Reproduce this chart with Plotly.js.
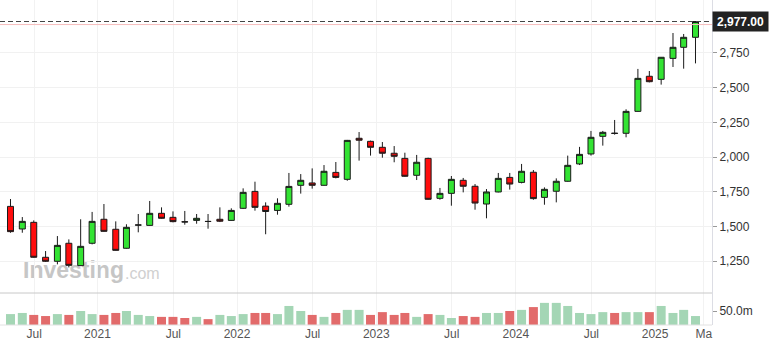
<!DOCTYPE html>
<html><head><meta charset="utf-8">
<script src="https://cdn.plot.ly/plotly-3.0.1.min.js"></script>
<style>html,body{margin:0;padding:0;background:#fff;} #chart{width:773px;height:356px;}</style>
</head><body><div id="chart"></div>
<script>
const months = ['2020-05','2020-06','2020-07','2020-08','2020-09','2020-10','2020-11','2020-12',
  '2021-01','2021-02','2021-03','2021-04','2021-05','2021-06','2021-07','2021-08','2021-09','2021-10','2021-11','2021-12',
  '2022-01','2022-02','2022-03','2022-04','2022-05','2022-06','2022-07','2022-08','2022-09','2022-10','2022-11','2022-12',
  '2023-01','2023-02','2023-03','2023-04','2023-05','2023-06','2023-07','2023-08','2023-09','2023-10','2023-11','2023-12',
  '2024-01','2024-02','2024-03','2024-04','2024-05','2024-06','2024-07','2024-08','2024-09','2024-10','2024-11','2024-12',
  '2025-01','2025-02','2025-03','2025-04'];
const openPrices = [1644,1481,1529,1277,1248,1378,1217,1378,1551,1479,
  1342,1509,1507,1594,1565,1533,1543,1536,1551,1543,
  1630,1752,1646,1615,1659,1796,1813,1796,1889,1839,
  2135,2113,2070,2027,1990,1868,1990,1702,1738,1832,
  1789,1661,1748,1853,1817,1890,1709,1753,1825,1950,
  2022,2149,2172,2171,2329,2582,2560,2711,2791,2863];
const highPrices = [1697,1567,1543,1322,1430,1406,1551,1604,1661,1536,
  1515,1589,1683,1637,1608,1611,1589,1589,1637,1630,
  1774,1822,1673,1702,1885,1877,1918,1942,1964,2123,
  2180,2118,2108,2079,2031,2015,1995,1777,1863,1849,
  1805,1769,1885,1885,1950,1906,1781,1846,2010,2073,
  2188,2188,2267,2344,2635,2620,2720,2894,2887,2980];
const lowPrices = [1454,1454,1274,1243,1226,1204,1214,1370,1462,1325,
  1339,1457,1505,1555,1529,1512,1519,1483,1531,1541,
  1625,1613,1443,1584,1642,1736,1772,1794,1846,1829,
  1974,2010,1995,1962,1858,1834,1692,1692,1649,1745,
  1620,1558,1745,1765,1810,1692,1656,1673,1822,1942,
  2010,2082,2161,2142,2327,2538,2522,2649,2637,2675];
const closePrices = [1462,1536,1277,1248,1363,1219,1356,1536,1464,1327,
  1493,1510,1594,1558,1534,1532,1558,1535,1537,1615,
  1745,1637,1607,1666,1788,1832,1796,1897,1853,2120,
  2121,2070,2027,2005,1861,1962,1695,1738,1839,1789,
  1668,1748,1846,1805,1897,1700,1767,1825,1940,2019,
  2142,2178,2170,2329,2567,2543,2719,2791,2863,2977];
const volumeMillions = [39,43,36,32,39,36,50,39,36,43,
  50,36,32,29,29,25,29,21,36,32,
  39,43,43,39,68,50,36,29,43,54,
  54,36,46,36,43,29,39,36,25,32,
  29,43,43,50,54,64,79,79,68,43,
  39,46,43,46,46,46,68,43,54,32];
const xTickDates = ['2020-07-02','2020-12-15','2021-07-02','2021-12-16','2022-07-02','2022-12-16',
  '2023-07-02','2023-12-17','2024-07-02','2024-12-16','2025-04-23'];
const xTickLabels = ['Jul','2021','Jul','2022','Jul','2023','Jul','2024','Jul','2025','Ma'];
const priceTicks = [1250,1500,1750,2000,2250,2500,2750];
const volumeTicks = [50];
const volumeTickLabels = ['50.0m'];
const referenceLevel = 2955;
const watermarkMain = 'Investing';
const watermarkSuffix = '.com';

const lastPrice = closePrices[closePrices.length - 1];
const lastPriceText = lastPrice.toLocaleString('en-US', {minimumFractionDigits: 2, maximumFractionDigits: 2});
const volColors = closePrices.map((c, i) => (i === 0 || c >= closePrices[i - 1]) ? '#a4d6b5' : '#e26b6b');
const DAY = 86400000;
const pricePaneBottom = 32 / 325;
const FONT = 'Liberation Sans, Arial, sans-serif';

const traces = [
  {
    type: 'bar', x: months, y: volumeMillions, xaxis: 'x', yaxis: 'y2',
    width: 23.6 * DAY, marker: {color: volColors, line: {width: 0}}, hoverinfo: 'skip'
  },
  {
    type: 'candlestick', x: months, open: openPrices, high: highPrices, low: lowPrices, close: closePrices,
    xaxis: 'x', yaxis: 'y', whiskerwidth: 0,
    increasing: {line: {color: '#1a1a1a', width: 1}, fillcolor: '#33e333'},
    decreasing: {line: {color: '#1a1a1a', width: 1}, fillcolor: '#ff0d0d'},
    hoverinfo: 'skip'
  }
];

const layout = {
  width: 773, height: 356,
  margin: {l: 0, r: 61, t: 0, b: 31, pad: 0},
  paper_bgcolor: '#ffffff', plot_bgcolor: '#ffffff',
  font: {family: FONT, size: 12, color: '#333'},
  showlegend: false, hovermode: false,
  boxgap: 0.44, boxgroupgap: 0,
  xaxis: {
    type: 'date', range: ['2020-04-03 12:00', '2025-05-14 07:00'], anchor: 'y2',
    tickmode: 'array', tickvals: xTickDates, ticktext: xTickLabels,
    showgrid: true, gridcolor: '#f2f2f2', ticks: '',
    tickfont: {color: '#555', size: 12, family: FONT},
    showline: false, zeroline: false,
    rangeslider: {visible: false}, fixedrange: true
  },
  yaxis: {
    domain: [pricePaneBottom, 1], range: [1019.5, 3132], side: 'right', anchor: 'x',
    tickmode: 'array', tickvals: priceTicks, tickformat: ',d',
    showgrid: true, gridcolor: '#f1f1f1', ticks: 'outside', ticklen: 4, tickcolor: '#999',
    showline: true, linecolor: '#dcdde4', zeroline: false,
    tickfont: {color: '#333', size: 12, family: FONT}, fixedrange: true
  },
  yaxis2: {
    domain: [0, pricePaneBottom], range: [0, 114.3], side: 'right', anchor: 'x',
    tickmode: 'array', tickvals: volumeTicks, ticktext: volumeTickLabels,
    showgrid: false, ticks: 'outside', ticklen: 4, tickcolor: '#999',
    showline: true, linecolor: '#dcdde4', zeroline: false,
    tickfont: {color: '#333', size: 12, family: FONT}, fixedrange: true
  },
  shapes: [
    {type: 'rect', xref: 'paper', yref: 'paper', x0: 20 / 712, x1: 122 / 712, y0: (325 - 284.3) / 325, y1: (325 - 252.3) / 325,
      line: {width: 0}, fillcolor: 'rgba(0,0,0,0)', layer: 'between',
      label: {text: '<b>' + watermarkMain + '</b>', textposition: 'middle left', padding: 0,
        font: {size: 23, color: '#c6c6c6', family: FONT}}},
    {type: 'rect', xref: 'paper', yref: 'paper', x0: 122 / 712, x1: 160 / 712, y0: (325 - 283) / 325, y1: (325 - 259) / 325,
      line: {width: 0}, fillcolor: 'rgba(0,0,0,0)', layer: 'between',
      label: {text: watermarkSuffix, textposition: 'middle left', padding: 0,
        font: {size: 16, color: '#d0d0d0', family: FONT}}},
    {type: 'line', xref: 'paper', yref: 'paper', x0: 0, x1: 1, y0: pricePaneBottom, y1: pricePaneBottom,
      line: {color: '#c8c8c8', width: 1}},
    {type: 'line', xref: 'paper', yref: 'paper', x0: 0, x1: 1, y0: 0, y1: 0,
      line: {color: '#e2e2e2', width: 1}},
    {type: 'line', xref: 'paper', yref: 'y', x0: 0, x1: 1, y0: referenceLevel, y1: referenceLevel,
      line: {color: '#f6bcbc', width: 1}},
    {type: 'line', xref: 'paper', yref: 'y', x0: 0, x1: 1, y0: lastPrice, y1: lastPrice,
      line: {color: '#444', width: 1, dash: '5px,3px'}}
  ],
  annotations: [
    {xref: 'paper', yref: 'y', x: 1, xanchor: 'left', y: lastPrice, yanchor: 'middle',
      text: '<b>' + lastPriceText + '</b>', showarrow: false, bgcolor: '#222222',
      font: {color: '#ffffff', size: 12, family: FONT}, width: 53, height: 17, borderpad: 1, align: 'center', valign: 'middle'}
  ]
};

Plotly.newPlot('chart', traces, layout, {displayModeBar: false, staticPlot: true});
</script>
</body></html>
